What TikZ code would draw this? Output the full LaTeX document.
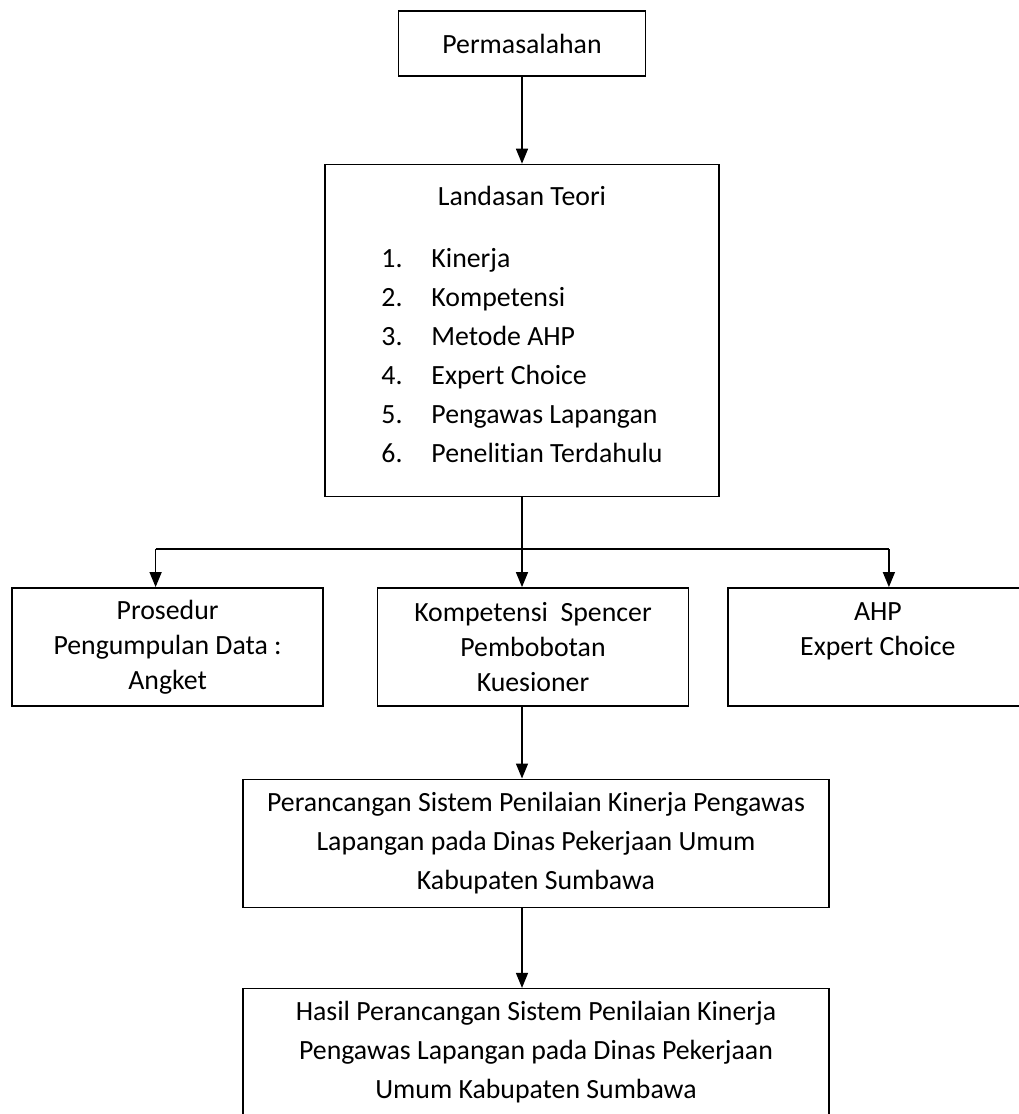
\documentclass[tikz,border=0pt]{standalone}
\usepackage{fontspec}
\setmainfont[Ligatures=NoCommon]{Carlito}
\usetikzlibrary{positioning,arrows.meta}

\begin{document}
\begin{tikzpicture}[x=1pt, y=1pt,
    box/.style={rectangle, draw, line width=1.4pt, align=center, inner sep=0pt, font=\fontsize{27.8}{39}\selectfont},
    midbox/.style={box, minimum width=311pt, minimum height=118pt, font=\fontsize{27.8}{35}\selectfont},
    arr/.style={-{Triangle[length=15pt,width=12pt]}, line width=1.4pt}
  ]
    \useasboundingbox (0,0) rectangle (1018,-1114);
    \node[box, minimum width=247pt, minimum height=65pt] (perm) at (522,-43.5) {Permasalahan};
    \node[box, minimum width=394pt, minimum height=332pt, below=87pt of perm] (teori) {Landasan Teori\\[34pt]
      \begin{tabular}{@{}p{50pt}@{}l@{}}
        1. & Kinerja\\
        2. & Kompetensi\\
        3. & Metode AHP\\
        4. & Expert Choice\\
        5. & Pengawas Lapangan\\
        6. & Penelitian Terdahulu
      \end{tabular}};
    \node[midbox, below=90pt of teori, xshift=11pt] (komp) {Kompetensi~ Spencer\\Pembobotan\\Kuesioner};
    \node[midbox, left=53pt of komp] (pros) {Prosedur\\Pengumpulan Data :\\Angket};
    \node[midbox, minimum width=300pt, right=38pt of komp] (ahp) {AHP\\Expert Choice\\\mbox{}};
    \node[box, minimum width=586pt, minimum height=128pt, below=72pt of komp, xshift=3pt] (peran) {Perancangan Sistem Penilaian Kinerja Pengawas\\Lapangan pada Dinas Pekerjaan Umum\\Kabupaten Sumbawa};
    \node[box, minimum width=586pt, minimum height=126pt, below=80pt of peran] (hasil) {Hasil Perancangan Sistem Penilaian Kinerja\\Pengawas Lapangan pada Dinas Pekerjaan\\Umum Kabupaten Sumbawa};
    % cabang dari landasan teori
    \coordinate[below=52pt of teori.south] (split);
    \coordinate (lft) at ([xshift=-12pt]pros.north |- split);
    \coordinate (rgt) at ([xshift=11pt]ahp.north |- split);
    \draw[arr] (perm) -- (teori);
    \draw[line width=1.4pt] (teori.south) -- (split);
    \draw[line width=1.4pt] (lft) -- (rgt);
    \draw[arr] (lft) -- (lft |- pros.north); \draw[arr] (split) -- (split |- komp.north); \draw[arr] (rgt) -- (rgt |- ahp.north);
    \draw[arr] (komp.south -| split) -- (peran.north -| split);
    \draw[arr] (peran.south -| split) -- (hasil.north -| split);
  \end{tikzpicture}
\end{document}
